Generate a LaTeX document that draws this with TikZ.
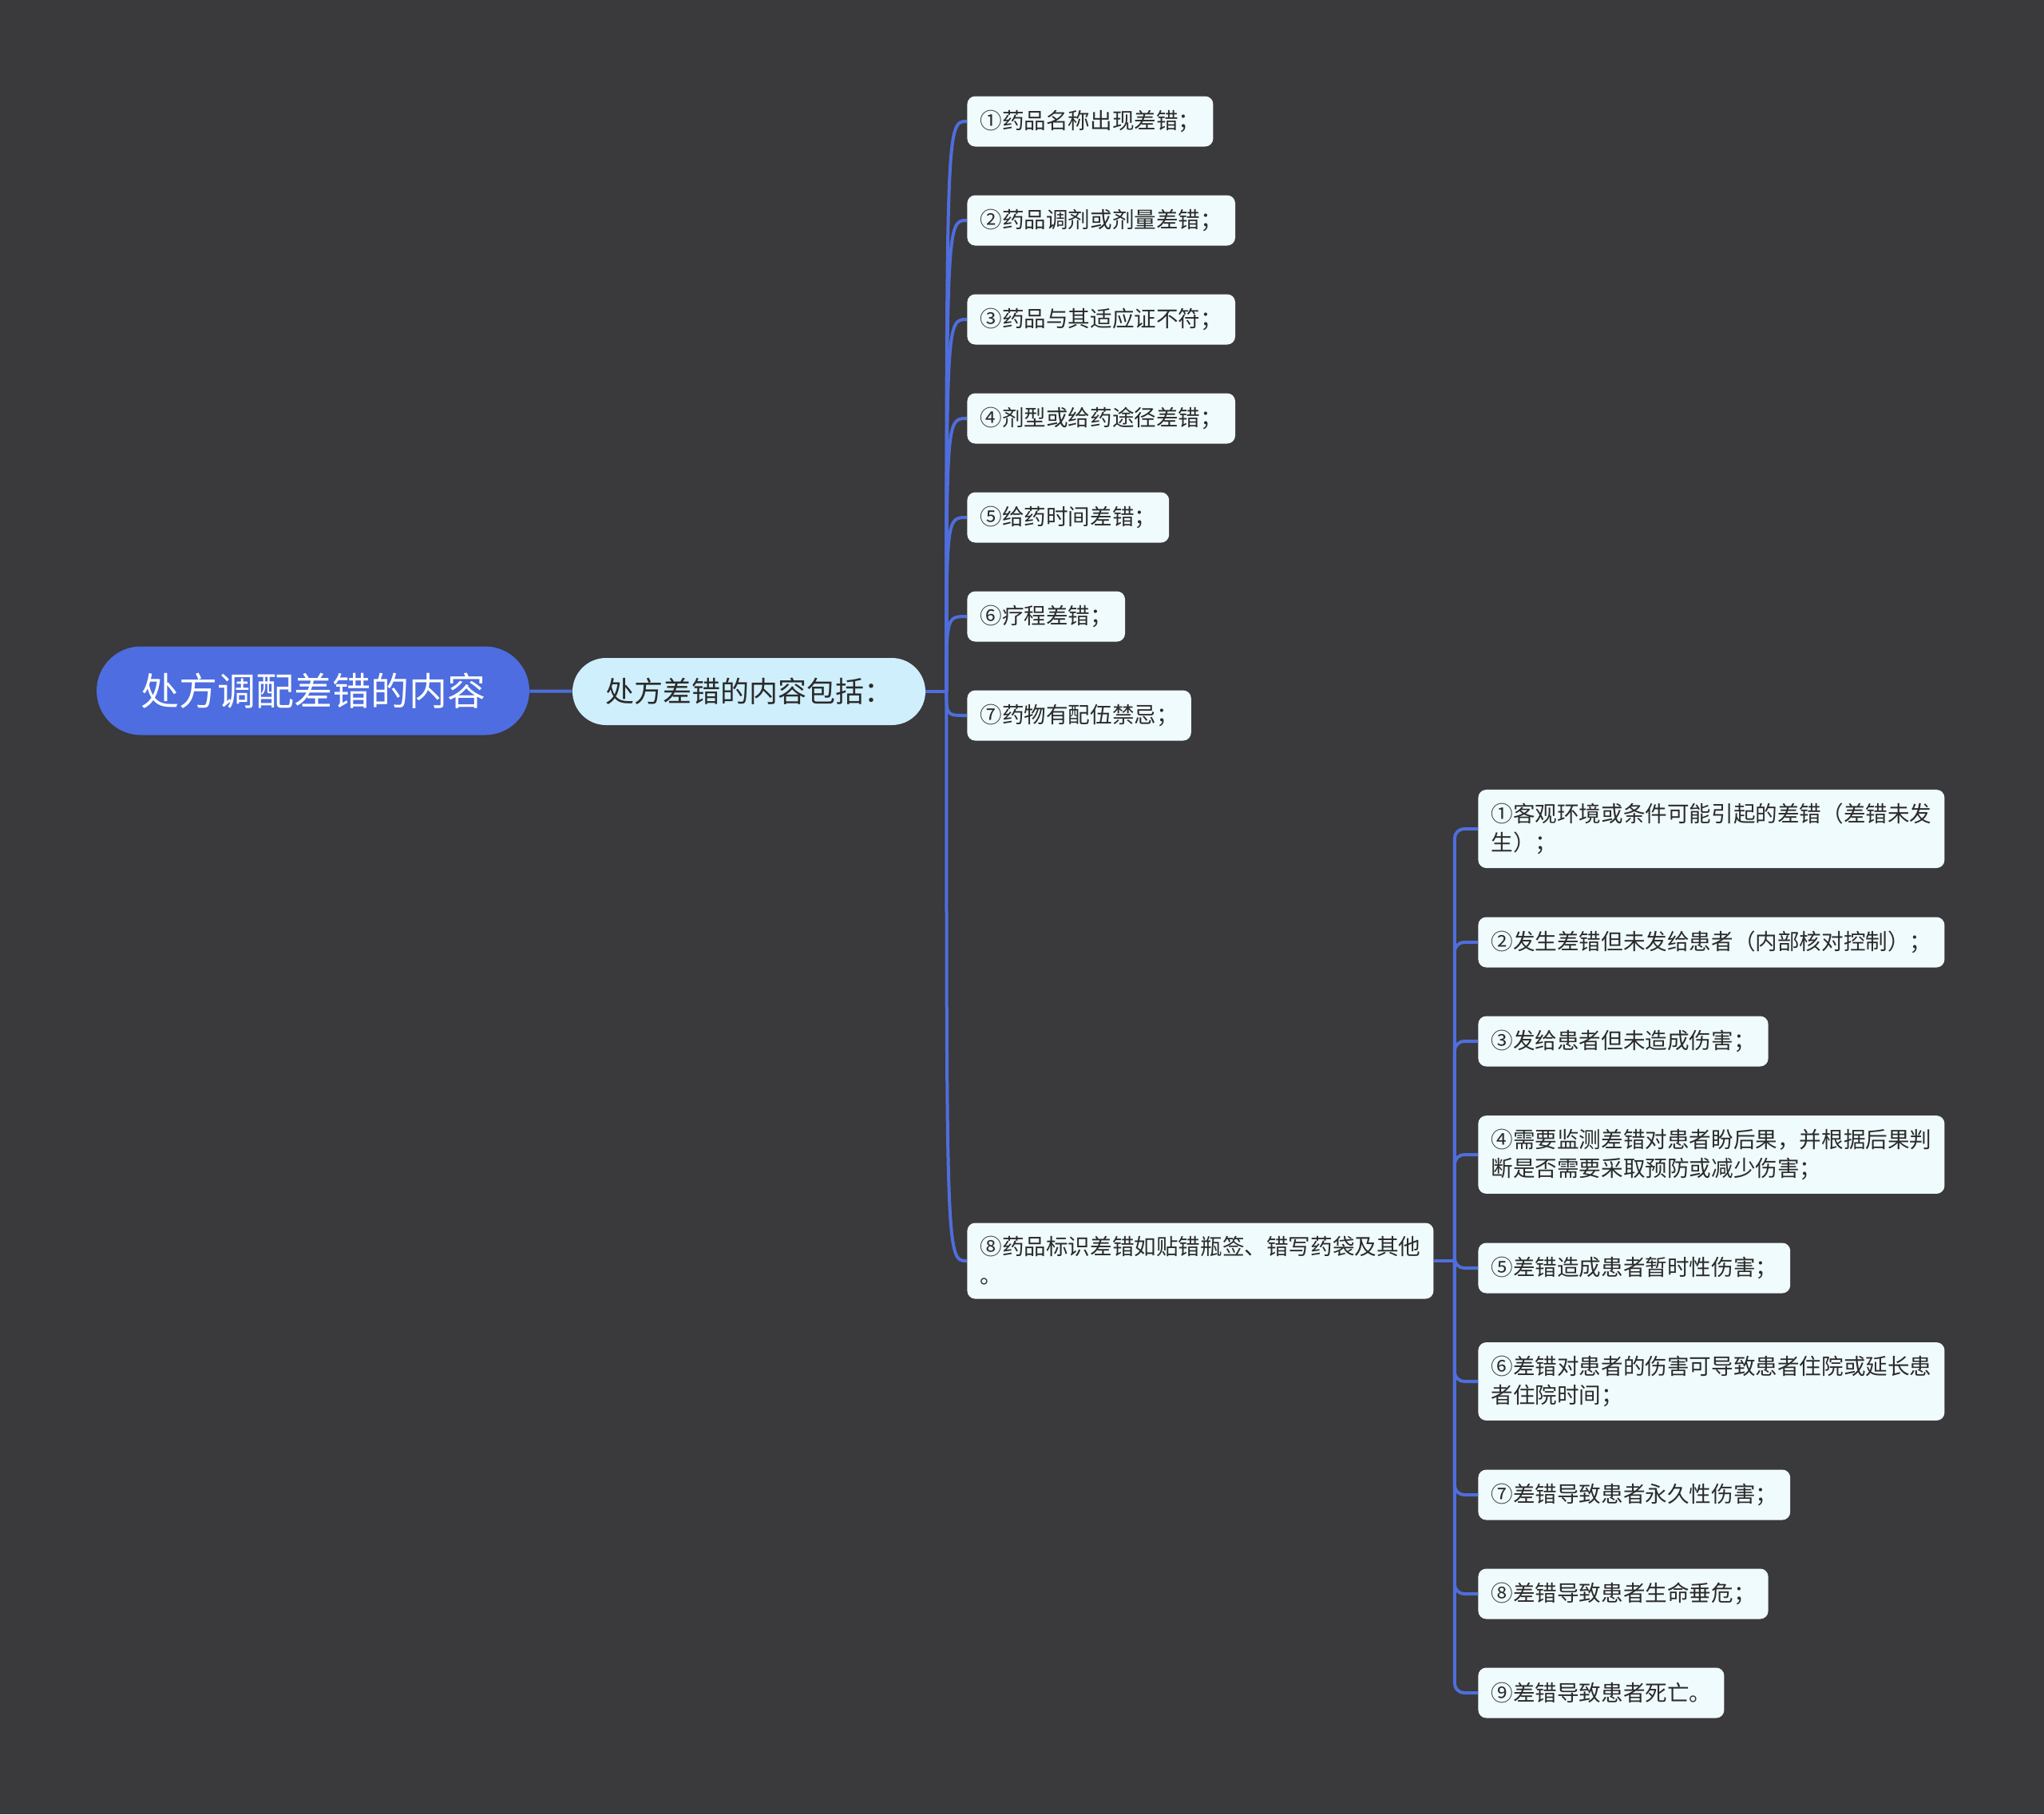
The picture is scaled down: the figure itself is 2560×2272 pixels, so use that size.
\documentclass[tikz,border=0pt]{standalone}
\usepackage{fontspec}
\setmainfont{Noto Sans CJK SC}
\definecolor{bg}{HTML}{3A393B}
\definecolor{linkblue}{HTML}{4F6EDD}
\definecolor{rootblue}{HTML}{4D6DE0}
\definecolor{subcyan}{HTML}{CFEFFC}
\definecolor{leaffill}{HTML}{F0FBFD}
\definecolor{ink}{HTML}{2B2B2B}

\begin{document}
\begin{tikzpicture}[x=0.5pt, y=-0.5pt, every node/.style={inner sep=0pt},
  rootnode/.style={fill=rootblue, text=white, rounded corners=27.75pt, minimum width=271pt, minimum height=55.5pt, font=\fontsize{24}{28}\selectfont},
  subnode/.style={fill=subcyan, text=ink, rounded corners=21pt, minimum width=221pt, minimum height=42pt, font=\fontsize{18}{22}\selectfont},
  leafnode/.style={fill=leaffill, text=ink, rounded corners=5pt, anchor=west, align=left, inner xsep=8pt, inner ysep=8.5pt, minimum height=31.5pt, font=\fontsize{13.8}{18}\selectfont},
  link/.style={draw=linkblue, line width=2pt}]
\fill[bg] (0,0) rectangle (2560,2272);

\node[rootnode] (root) at (392,865) {处方调配差错的内容};
\node[subnode] (sum) at (938,866) {处方差错的内容包括：};
\draw[link] (root) -- (sum);

% first level of items
\foreach \i/\t in {1/①药品名称出现差错；, 2/②药品调剂或剂量差错；, 3/③药品与其适应证不符；, 4/④剂型或给药途径差错；, 5/⑤给药时间差错；, 6/⑥疗程差错；, 7/⑦药物有配伍禁忌；}
  \node[leafnode] (E\i) at (1211,{152+124*(\i-1)}) {\t};
\node[leafnode] (E8) at (1211,1579) {⑧药品标识差错如贴错瓶签、错写药袋及其他\\。};

\coordinate (j1) at ([xshift=13pt]sum.east);
\draw[link] (sum.east) -- (j1);
\foreach \i in {1,...,8}
  \draw[link] (j1) .. controls (j1 |- E\i.west) .. (E\i.west);

% grades under item 8
\foreach \i/\y/\t in {1/1038/{①客观环境或条件可能引起的差错（差错未发\\生）；}, 2/1180/{②发生差错但未发给患者（内部核对控制）；}, 3/1304/{③发给患者但未造成伤害；}, 4/1446/{④需要监测差错对患者盼后果，并根据后果判\\断是否需要采取预防或减少伤害；}, 5/1588/{⑤差错造成患者暂时性伤害；}, 6/1730/{⑥差错对患者的伤害可导致患者住院或延长患\\者住院时间；}, 7/1872/{⑦差错导致患者永久性伤害；}, 8/1996/{⑧差错导致患者生命垂危；}, 9/2120/{⑨差错导致患者死亡。}}
  \node[leafnode] (H\i) at (1851,\y) {\t};

\coordinate (j2) at ([xshift=13pt]E8.east);
\draw[link] (E8.east) -- (j2);
\foreach \i in {1,...,9}
  \draw[link, rounded corners=6pt] (j2) |- (H\i.west);
\end{tikzpicture}
\end{document}
